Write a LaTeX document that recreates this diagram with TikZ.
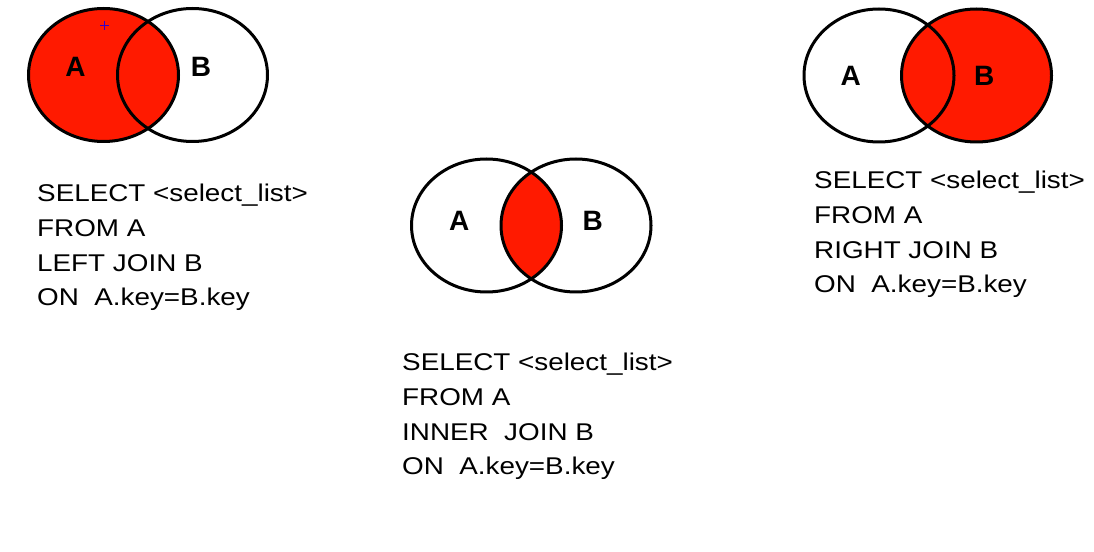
\documentclass[tikz,border=0pt]{standalone}
\usepackage{fontspec}
\newfontfamily\sqlfont[FakeStretch=1.15]{Liberation Sans}
\newfontfamily\setfont{Liberation Sans}
\definecolor{joinred}{RGB}{255,26,0}
\begin{document}
\begin{tikzpicture}[x=1bp, y=-1bp,
    venn/.style={draw=black, line width=3bp},
    setname/.style={font=\setfont\bfseries\fontsize{28bp}{30bp}\selectfont},
    sqlline/.style={anchor=base west, inner sep=0pt, font=\sqlfont\fontsize{24.2bp}{29bp}\selectfont}]
    \def\rx{75}
    \def\ry{66.5}
    \def\ls{34.6}
    \useasboundingbox (0,0) rectangle (1094,552);

% LEFT JOIN
    \begin{scope}[shift={(148,75)}]
    \fill[joinred] (-44.5,0) ellipse [x radius=\rx, y radius=\ry];
    \draw[venn] (-44.5,0) ellipse [x radius=\rx, y radius=\ry];
    \draw[venn] (44.5,0) ellipse [x radius=\rx, y radius=\ry];
    \node[setname] (lA) at (-72.5,-8) {A};
    \node[setname] (lB) at (53,-8) {B};
    \end{scope}
    % cursor
    \draw[blue!80!red, line width=1.5bp] (100,25.5) -- (109,25.5) (104.5,21) -- (104.5,30);
    \node[sqlline] (lsel) at (37,202) {SELECT <select\_list>};
    \node[sqlline] (lfrom) at (37,202+\ls) {FROM A};
    \node[sqlline] (ljoin) at (37,202+2*\ls) {LEFT JOIN B};
    \node[sqlline] (lon) at (37,202+3*\ls) {ON~~A.key=B.key};

% INNER JOIN
    \begin{scope}[shift={(531.25,225.5)}]
    \begin{scope}
    \clip (-44.75,0) ellipse [x radius=\rx, y radius=\ry];
    \fill[joinred] (44.75,0) ellipse [x radius=\rx, y radius=\ry];
    \end{scope}
    \draw[venn] (-44.75,0) ellipse [x radius=\rx, y radius=\ry];
    \draw[venn] (44.75,0) ellipse [x radius=\rx, y radius=\ry];
    \node[setname] (iA) at (-72,-5) {A};
    \node[setname] (iB) at (61.5,-5) {B};
    \end{scope}
    \node[sqlline] (isel) at (402,371) {SELECT <select\_list>};
    \node[sqlline] (ifrom) at (402,371+\ls) {FROM A};
    \node[sqlline] (ijoin) at (402,371+2*\ls) {INNER~~JOIN B};
    \node[sqlline] (ion) at (402,371+3*\ls) {ON~~A.key=B.key};

% RIGHT JOIN
    \begin{scope}[shift={(927.75,75.5)}]
    \fill[joinred] (48.75,0) ellipse [x radius=\rx, y radius=\ry];
    \draw[venn] (-48.75,0) ellipse [x radius=\rx, y radius=\ry];
    \draw[venn] (48.75,0) ellipse [x radius=\rx, y radius=\ry];
    \node[setname] (rA) at (-77,0.5) {A};
    \node[setname] (rB) at (56.5,0.5) {B};
    \end{scope}
    \node[sqlline] (rsel) at (814,189) {SELECT <select\_list>};
    \node[sqlline] (rfrom) at (814,189+\ls) {FROM A};
    \node[sqlline] (rjoin) at (814,189+2*\ls) {RIGHT JOIN B};
    \node[sqlline] (ron) at (814,189+3*\ls) {ON~~A.key=B.key};
\end{tikzpicture}
\end{document}
